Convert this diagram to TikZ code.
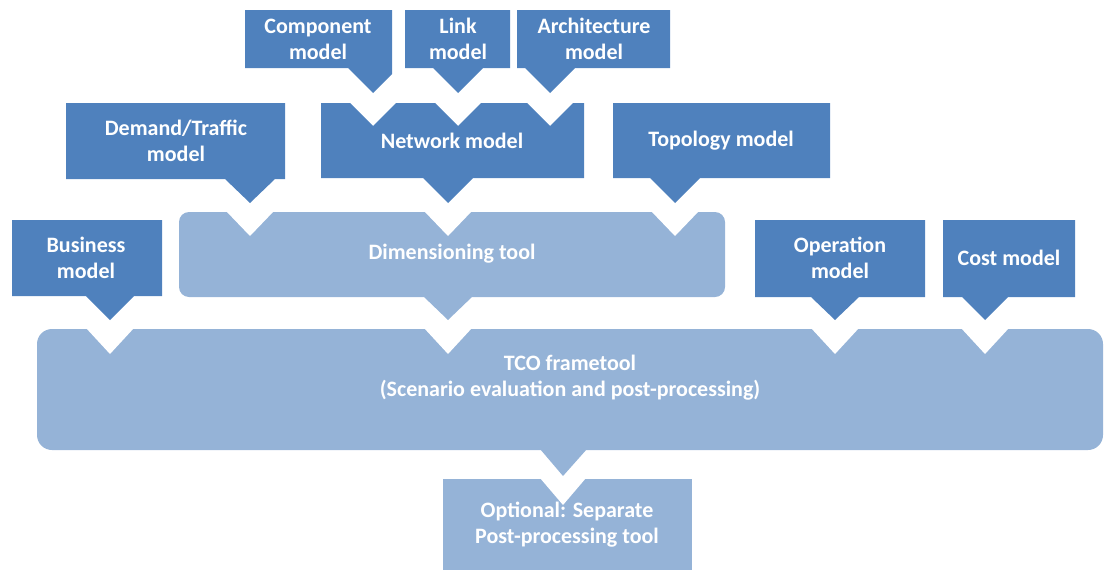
\documentclass[tikz,border=0pt]{standalone}
\usepackage{fontspec}
\setmainfont{Carlito}
\definecolor{modelblue}{HTML}{4F81BD}
\definecolor{toolblue}{HTML}{95B3D7}

\begin{document}
\begin{tikzpicture}[x=1pt, y=-1pt,
  model/.style={fill=modelblue},
  tool/.style={fill=toolblue},
  notch/.style={fill=white},
  lbl/.style={text=white, align=center, inner sep=0pt, font=\bfseries\fontsize{22}{26}\selectfont}]
\useasboundingbox (0,0) rectangle (1107,570);
\fill[model] (245,10) -- (392,10) -- (392,74) -- (373,93) -- (348,68) -- (245,68) -- cycle;
\fill[model] (405,10) -- (510,10) -- (510,68) -- (483,68) -- (458,93) -- (433,68) -- (405,68) -- cycle;
\fill[model] (517,10) -- (670,10) -- (670,68) -- (575,68) -- (550,93) -- (525,68) -- (517,68) -- cycle;
\fill[model] (321,103) -- (350,103) -- (373,126) -- (396,103) -- (435,103) -- (458,126) -- (481,103) -- (527,103) -- (550,126) -- (573,103) -- (584,103) -- (584,178) -- (473,178) -- (448,203) -- (423,178) -- (321,178) -- cycle;
\fill[model] (66,103) -- (285,103) -- (285,179) -- (275,179) -- (250,203) -- (225,179) -- (66,179) -- cycle;
\fill[model] (613,103) -- (830,103) -- (830,178) -- (700,178) -- (675,203) -- (650,178) -- (613,178) -- cycle;
\fill[tool, rounded corners=10pt] (179,212) rectangle (725,297);
\fill[tool] (423,296) -- (448,320) -- (473,296) -- cycle;
\fill[notch] (226,211) -- (250,236) -- (274,211) -- cycle;
\fill[notch] (424,211) -- (448,236) -- (472,211) -- cycle;
\fill[notch] (651,211) -- (675,236) -- (699,211) -- cycle;
\fill[model] (12,220) -- (162,220) -- (162,296) -- (134,296) -- (110,320) -- (86,296) -- (12,296) -- cycle;
\fill[model] (755,220) -- (925,220) -- (925,297) -- (859,297) -- (835,320) -- (811,297) -- (755,297) -- cycle;
\fill[model] (943,220) -- (1075,220) -- (1075,297) -- (1008,297) -- (985,320) -- (962,297) -- (943,297) -- cycle;
\fill[tool, rounded corners=15pt] (37,329) rectangle (1103,450);
\fill[tool] (540,449) -- (563,476) -- (587,449) -- cycle;
\fill[notch] (86,328) -- (110,354) -- (134,328) -- cycle;
\fill[notch] (424,328) -- (448,354) -- (472,328) -- cycle;
\fill[notch] (811,328) -- (835,354) -- (859,328) -- cycle;
\fill[notch] (961,328) -- (985,354) -- (1009,328) -- cycle;
\fill[tool] (443,479) rectangle (692,570);
\fill[notch] (540,478) -- (563,505) -- (586,478) -- cycle;
\node[lbl] (component) at (318,39) {Component\\model};
\node[lbl] (link) at (458,39) {Link\\model};
\node[lbl] (architecture) at (594,39) {Architecture\\model};
\node[lbl] (network) at (452,141) {Network model};
\node[lbl] (demand) at (176,141) {Demand/Traffic\\model};
\node[lbl] (topology) at (721,141) {Topology model};
\node[lbl] (dimensioning) at (452,254) {Dimensioning tool};
\node[lbl] (business) at (86,258) {Business\\model};
\node[lbl] (operation) at (840,258) {Operation\\model};
\node[lbl] (cost) at (1009,258) {Cost model};
\node[lbl] (tco) at (570,378) {TCO frametool\\(Scenario evaluation and post-processing)};
\node[lbl] (optional) at (567,525) {Optional: Separate\\Post-processing tool};
\end{tikzpicture}
\end{document}
